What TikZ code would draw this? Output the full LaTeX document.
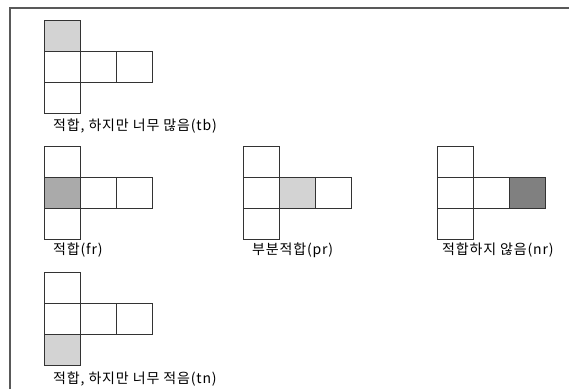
\documentclass[tikz,border=0pt]{standalone}
\usepackage{fontspec}
\setmainfont[LetterSpace=6]{Noto Sans CJK KR}
\usetikzlibrary{positioning}
\definecolor{hitlight}{RGB}{211, 211, 211}
\definecolor{hitmid}{RGB}{170, 170, 170}
\definecolor{hitdark}{RGB}{128, 128, 128}
\tikzstyle{cell}  = [rectangle, draw=black!80, line width=0.7pt, inner sep=0pt, outer sep=0pt,
                     minimum width=36pt, minimum height=31pt]
\tikzstyle{caption} = [anchor=base west, inner sep=0pt, font=\fontsize{14}{16}\selectfont]
\tikzstyle{frame} = [draw=black!65, line width=1.3pt]

\begin{document}
\begin{tikzpicture}[x=1pt, y=-1pt, node distance=0pt]
  \useasboundingbox (0,0) rectangle (569,389);
  \draw [frame] (10,389) -- (10,8) -- (569,8);

  % too broad
  \node (tbc)  [cell] at (62,66.5) {};
  \node (tbt)  [cell, fill=hitlight, above=of tbc] {};
  \node (tbb)  [cell, below=of tbc] {};
  \node (tbr)  [cell, right=of tbc] {};
  \node (tbrr) [cell, right=of tbr] {};
  \node (tbl)  [caption] at ([xshift=9pt, yshift=-17pt]tbb.south west) {적합, 하지만 너무 많음(tb)};

  % fit
  \node (frc)  [cell, fill=hitmid] at (62,192.5) {};
  \node (frt)  [cell, above=of frc] {};
  \node (frb)  [cell, below=of frc] {};
  \node (frr)  [cell, right=of frc] {};
  \node (frrr) [cell, right=of frr] {};
  \node (frl)  [caption] at ([xshift=9pt, yshift=-15pt]frb.south west) {적합(fr)};

  % partial
  \node (prc)  [cell] at (261,192.5) {};
  \node (prt)  [cell, above=of prc] {};
  \node (prb)  [cell, below=of prc] {};
  \node (prr)  [cell, fill=hitlight, right=of prc] {};
  \node (prrr) [cell, right=of prr] {};
  \node (prl)  [caption] at ([xshift=9pt, yshift=-15pt]prb.south west) {부분적합(pr)};

  % no fit
  \node (nrc)  [cell] at (455,192.5) {};
  \node (nrt)  [cell, above=of nrc] {};
  \node (nrb)  [cell, below=of nrc] {};
  \node (nrr)  [cell, right=of nrc] {};
  \node (nrrr) [cell, fill=hitdark, right=of nrr] {};
  \node (nrl)  [caption] at ([xshift=5pt, yshift=-15pt]nrb.south west) {적합하지 않음(nr)};

  % too narrow
  \node (tnc)  [cell] at (62,318.5) {};
  \node (tnt)  [cell, above=of tnc] {};
  \node (tnb)  [cell, fill=hitlight, below=of tnc] {};
  \node (tnr)  [cell, right=of tnc] {};
  \node (tnrr) [cell, right=of tnr] {};
  \node (tnl)  [caption] at ([xshift=9pt, yshift=-18pt]tnb.south west) {적합, 하지만 너무 적음(tn)};
\end{tikzpicture}
\end{document}
